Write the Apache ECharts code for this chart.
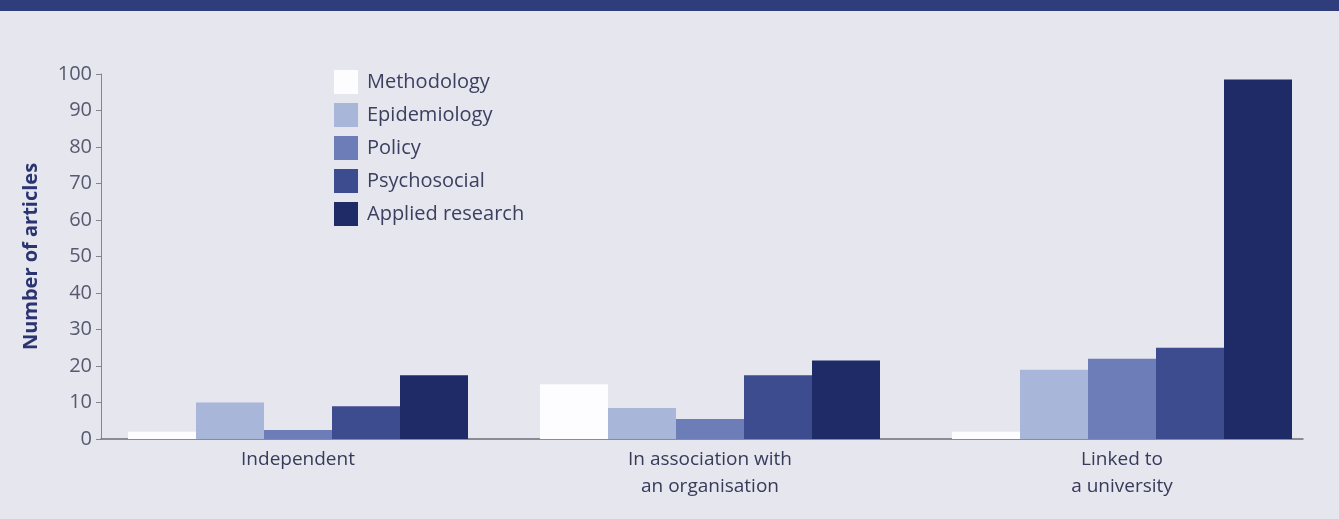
<!DOCTYPE html>
<html>
<head>
<meta charset="utf-8">
<script src="https://cdn.jsdelivr.net/npm/echarts@6/dist/echarts.min.js"></script>
<style>
  html, body { margin: 0; padding: 0; background: #e6e6ee; }
  #wrap { position: relative; width: 1339px; height: 519px; }
  #band { position: absolute; left: 0; top: 0; width: 1339px; height: 11px; background: #2f3d7c; z-index: 2; }
  #chart { position: absolute; left: 0; top: 0; width: 1339px; height: 519px; }
</style>
</head>
<body>
<div id="wrap"><div id="band"></div><div id="chart"></div></div>
<script>
const categories = ['Independent', 'In association with\nan organisation', 'Linked to\na university'];
const seriesNames = ['Methodology', 'Epidemiology', 'Policy', 'Psychosocial', 'Applied research'];
const methodology = [2, 15, 2];
const epidemiology = [10, 8.5, 19];
const policy = [2.5, 5.5, 22];
const psychosocial = [9, 17.5, 25];
const appliedResearch = [17.5, 21.5, 98.5];
const yTicks = [0, 10, 20, 30, 40, 50, 60, 70, 80, 90, 100];

const colors = ['#fdfdff', '#a7b6d9', '#6c7db7', '#3c4c8e', '#1f2b66'];
const values = [methodology, epidemiology, policy, psychosocial, appliedResearch];
const font = '"Open Sans", "Noto Sans", sans-serif';

const chart = echarts.init(document.getElementById('chart'), null, { renderer: 'canvas' });
chart.setOption({
  backgroundColor: '#e6e6ee',
  animation: false,
  textStyle: { fontFamily: font },
  grid: [
    { left: 92, right: 11, top: 74, bottom: 80 },
    { left: 101, right: 36, top: 74, bottom: 80 }
  ],
  legend: {
    orient: 'vertical',
    left: 329,
    top: 65,
    itemWidth: 24,
    itemHeight: 24,
    itemGap: 9,
    icon: 'rect',
    data: seriesNames,
    textStyle: { fontSize: 20, color: '#3b4060', fontFamily: font, padding: [0, 0, 0, 4] }
  },
  xAxis: [
    {
      type: 'category', gridIndex: 0, data: categories,
      axisLine: { show: false }, axisTick: { show: false },
      axisLabel: { fontSize: 19, color: '#363b5a', lineHeight: 27, margin: 7, fontFamily: font, interval: 0 }
    },
    {
      type: 'value', gridIndex: 1, min: 0, max: 1,
      axisLine: { show: true, lineStyle: { color: '#6e6e78', width: 1.5 } },
      axisTick: { show: false }, axisLabel: { show: false }, splitLine: { show: false }
    }
  ],
  yAxis: [
    { type: 'value', gridIndex: 0, min: 0, max: 100, show: false, splitLine: { show: false } },
    {
      type: 'value', gridIndex: 1, min: yTicks[0], max: yTicks[yTicks.length - 1], interval: 10,
      name: 'Number of articles', nameLocation: 'middle', nameGap: 60, nameRotate: 90,
      nameTextStyle: { fontSize: 20, fontWeight: 'bold', color: '#2a3470', fontFamily: font },
      axisLine: { show: true, lineStyle: { color: '#85858f', width: 1 } },
      axisTick: { show: true, length: 5, lineStyle: { color: '#85858f' } },
      axisLabel: { fontSize: 20, color: '#565a70', margin: 9, fontFamily: font },
      splitLine: { show: false }
    }
  ],
  series: seriesNames.map((name, i) => ({
    name: name,
    type: 'bar',
    xAxisIndex: 0,
    yAxisIndex: 0,
    data: values[i],
    barWidth: 68,
    barGap: '0%',
    itemStyle: { color: colors[i] }
  }))
});
</script>
</body>
</html>
